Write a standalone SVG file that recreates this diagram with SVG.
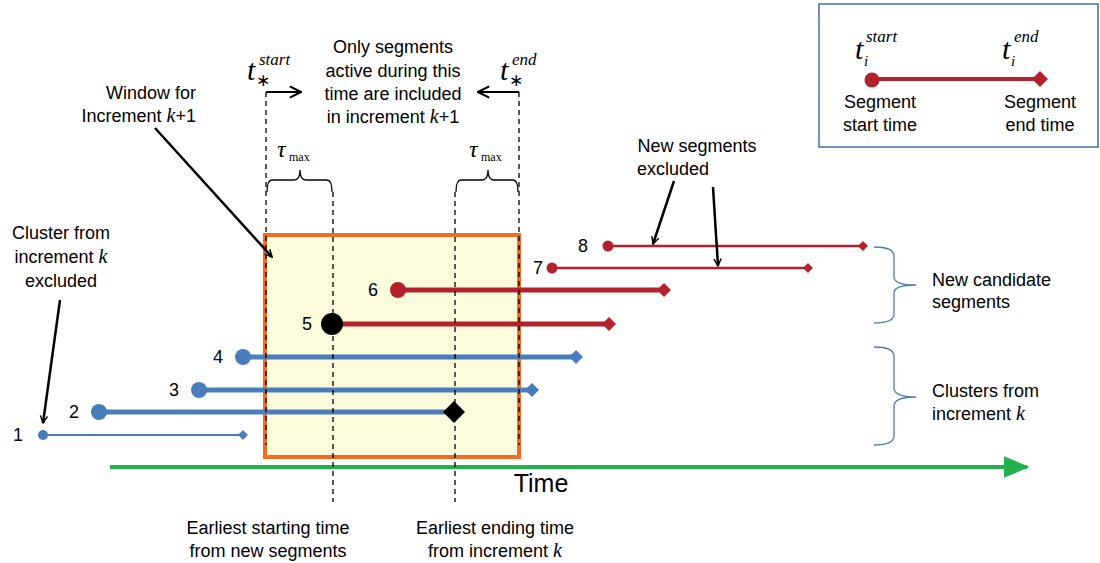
<svg xmlns="http://www.w3.org/2000/svg" width="1100" height="563" viewBox="0 0 1100 563">
  <defs>
    <marker id="ah" viewBox="0 0 10 10" refX="9" refY="5" markerWidth="9" markerHeight="9" markerUnits="userSpaceOnUse" orient="auto">
      <path d="M1,1 L9,5 L1,9" fill="none" stroke="#000" stroke-width="1.6"/>
    </marker>
    <marker id="ahBig" viewBox="0 0 10 10" refX="9" refY="5" markerWidth="14" markerHeight="14" markerUnits="userSpaceOnUse" orient="auto">
      <path d="M1,1 L9,5 L1,9" fill="none" stroke="#000" stroke-width="1.5"/>
    </marker>
    <marker id="greenHead" viewBox="0 0 10 10" refX="9" refY="5" markerWidth="26" markerHeight="22" markerUnits="userSpaceOnUse" orient="auto" preserveAspectRatio="none">
      <path d="M0,0 L10,5 L0,10 Z" fill="#21B24B"/>
    </marker>
  </defs>
  <style>
    text { font-family: "Liberation Sans", Arial, sans-serif; font-size: 18px; fill: #000; }
    .c { text-anchor: middle; }
    .r { text-anchor: end; }
    .m { font-family: "Liberation Serif", "Times New Roman", serif; font-style: italic; font-size: 20px; }
    .sym { font-family: "Liberation Serif", "Times New Roman", serif; font-style: italic; font-size: 30px; }
    .sup { font-family: "Liberation Serif", "Times New Roman", serif; font-style: italic; font-size: 17px; }
    .star { font-family: "DejaVu Sans", sans-serif; font-size: 17px; }
    .dash { stroke: #000; stroke-width: 1.3; stroke-dasharray: 5 4; fill: none; }
    .ptr { stroke: #000; stroke-width: 2.5; fill: none; }
    .brace { stroke: #000; stroke-width: 1.3; fill: none; }
    .bbrace { stroke: #4A7EBB; stroke-width: 1.3; fill: none; }
    .blue { stroke: #4A7EBB; fill: none; }
    .red { stroke: #B3222A; fill: none; }
    .fb { fill: #4A7EBB; }
    .fr { fill: #B3222A; }
  </style>

  <!-- window for increment k+1 -->
  <g id="window">
    <rect x="265" y="235" width="254" height="222" fill="#FCFCDC" stroke="#F26B21" stroke-width="4"/>
  </g>

  <!-- segments -->
  <g id="seg1">
    <line class="blue" x1="43" y1="435" x2="242" y2="435" stroke-width="2"/>
    <circle class="fb" cx="43" cy="435" r="5"/>
    <path class="fb" d="M243,430 L248,435 L243,440 L238,435 Z"/>
    <text x="18" y="441" class="c">1</text>
  </g>
  <g id="seg2">
    <line class="blue" x1="99" y1="412" x2="450" y2="412" stroke-width="5"/>
    <circle class="fb" cx="99" cy="412" r="8"/>
    <path d="M454,401 L465,412 L454,423 L443,412 Z" fill="#000"/>
    <text x="74" y="418" class="c">2</text>
  </g>
  <g id="seg3">
    <line class="blue" x1="199" y1="390" x2="530" y2="390" stroke-width="5"/>
    <circle class="fb" cx="199" cy="390" r="8"/>
    <path class="fb" d="M532,383 L539,390 L532,397 L525,390 Z"/>
    <text x="174" y="396" class="c">3</text>
  </g>
  <g id="seg4">
    <line class="blue" x1="243" y1="357" x2="574" y2="357" stroke-width="5"/>
    <circle class="fb" cx="243" cy="357" r="8"/>
    <path class="fb" d="M576,350 L583,357 L576,364 L569,357 Z"/>
    <text x="218" y="363" class="c">4</text>
  </g>
  <g id="seg5">
    <line class="red" x1="332" y1="324" x2="607" y2="324" stroke-width="5"/>
    <circle cx="332" cy="324" r="11" fill="#000"/>
    <path class="fr" d="M609,317 L616,324 L609,331 L602,324 Z"/>
    <text x="307" y="330" class="c">5</text>
  </g>
  <g id="seg6">
    <line class="red" x1="398" y1="290" x2="662" y2="290" stroke-width="5"/>
    <circle class="fr" cx="398" cy="290" r="8"/>
    <path class="fr" d="M664,283 L671,290 L664,297 L657,290 Z"/>
    <text x="373" y="296" class="c">6</text>
  </g>
  <g id="seg7">
    <line class="red" x1="552" y1="268" x2="807" y2="268" stroke-width="2.5"/>
    <circle class="fr" cx="552" cy="268" r="5.5"/>
    <path class="fr" d="M808,263 L813,268 L808,273 L803,268 Z"/>
    <text x="538" y="274" class="c">7</text>
  </g>
  <g id="seg8">
    <line class="red" x1="608" y1="246" x2="862" y2="246" stroke-width="2.5"/>
    <circle class="fr" cx="608" cy="246" r="5.5"/>
    <path class="fr" d="M863,241 L868,246 L863,251 L858,246 Z"/>
    <text x="583" y="252" class="c">8</text>
  </g>

  <!-- time axis -->
  <g id="timeAxis">
    <line x1="110" y1="467" x2="1027" y2="467" stroke="#21B24B" stroke-width="4" marker-end="url(#greenHead)"/>
    <text x="541" y="492" class="c" style="font-size:25px">Time</text>
  </g>

  <!-- window boundary markers -->
  <g id="connectors">
    <line class="dash" x1="266" y1="92" x2="266" y2="445"/>
    <line class="dash" x1="519" y1="92" x2="519" y2="445"/>
    <line class="dash" x1="333" y1="192" x2="333" y2="502"/>
    <line class="dash" x1="455" y1="192" x2="455" y2="502"/>
    <line x1="266" y1="92" x2="301" y2="92" stroke="#000" stroke-width="2" marker-end="url(#ahBig)"/>
    <line x1="519" y1="92" x2="478" y2="92" stroke="#000" stroke-width="2" marker-end="url(#ahBig)"/>
    <!-- tau_max braces -->
    <path class="brace" d="M267,192 Q267,180 272,180 L294,180 Q300,180 300,170 Q300,180 306,180 L327,180 Q332,180 332,192"/>
    <path class="brace" d="M456,192 Q456,180 461,180 L482,180 Q488,180 488,170 Q488,180 494,180 L513,180 Q518,180 518,192"/>
    <!-- pointer arrows -->
    <line class="ptr" x1="155" y1="128" x2="272" y2="257" marker-end="url(#ah)"/>
    <line class="ptr" x1="60" y1="300" x2="43" y2="423" marker-end="url(#ah)"/>
    <line class="ptr" x1="674" y1="181" x2="653" y2="244" marker-end="url(#ah)"/>
    <line class="ptr" x1="713" y1="187" x2="718" y2="266" marker-end="url(#ah)"/>
    <!-- group braces -->
    <path class="bbrace" d="M874,247 Q894,247 894,256 L894,277 Q894,285 916,285 Q894,285 894,293 L894,314 Q894,323 874,323"/>
    <path class="bbrace" d="M874,347 Q894,347 894,356 L894,388 Q894,397 916,397 Q894,397 894,406 L894,436 Q894,445 874,445"/>
  </g>

  <!-- labels -->
  <g id="labels">
    <text x="247" y="80" class="sym">t</text>
    <text x="256" y="86" class="star">∗</text>
    <text x="259" y="65" class="sup">start</text>
    <text x="500" y="80" class="sym">t</text>
    <text x="509" y="86" class="star">∗</text>
    <text x="512" y="65" class="sup">end</text>

    <text class="c" x="393" y="53">Only segments</text>
    <text class="c" x="393" y="77">active during this</text>
    <text class="c" x="393" y="100">time are included</text>
    <text class="c" x="393" y="123">in increment <tspan class="m">k</tspan>+1</text>

    <text x="277" y="157" class="sym" style="font-size:24px">τ</text>
    <text x="289" y="161" style="font-family:'Liberation Serif',serif;font-size:12px">max</text>
    <text x="469" y="157" class="sym" style="font-size:24px">τ</text>
    <text x="481" y="161" style="font-family:'Liberation Serif',serif;font-size:12px">max</text>

    <text class="r" x="196" y="99">Window for</text>
    <text class="r" x="196" y="122">Increment <tspan class="m">k</tspan>+1</text>

    <text class="c" x="61" y="239">Cluster from</text>
    <text class="c" x="61" y="263">increment <tspan class="m">k</tspan></text>
    <text class="c" x="61" y="287">excluded</text>

    <text class="c" x="697" y="152">New segments</text>
    <text class="c" x="673" y="175">excluded</text>

    <text x="932" y="286">New candidate</text>
    <text x="932" y="308">segments</text>
    <text x="932" y="397">Clusters from</text>
    <text x="932" y="420">increment <tspan class="m">k</tspan></text>

    <text class="c" x="268" y="534">Earliest starting time</text>
    <text class="c" x="268" y="557">from new segments</text>
    <text class="c" x="495" y="534">Earliest ending time</text>
    <text class="c" x="495" y="557">from increment <tspan class="m">k</tspan></text>
  </g>

  <!-- legend -->
  <g id="legend">
    <rect x="819" y="4" width="279" height="143" fill="#fff" stroke="#41719C" stroke-width="1.5"/>
    <line class="red" x1="872" y1="79" x2="1038" y2="79" stroke-width="4"/>
    <circle class="fr" cx="872" cy="80" r="7.5"/>
    <path class="fr" d="M1040,71 L1048,79 L1040,87 L1032,79 Z"/>
    <text x="855" y="59" class="sym">t</text>
    <text x="864" y="66" class="sup" style="font-size:15px">i</text>
    <text x="866" y="42" class="sup">start</text>
    <text x="1002" y="59" class="sym">t</text>
    <text x="1011" y="66" class="sup" style="font-size:15px">i</text>
    <text x="1014" y="42" class="sup">end</text>
    <text class="c" x="880" y="108">Segment</text>
    <text class="c" x="880" y="131">start time</text>
    <text class="c" x="1040" y="108">Segment</text>
    <text class="c" x="1040" y="131">end time</text>
  </g>
</svg>
